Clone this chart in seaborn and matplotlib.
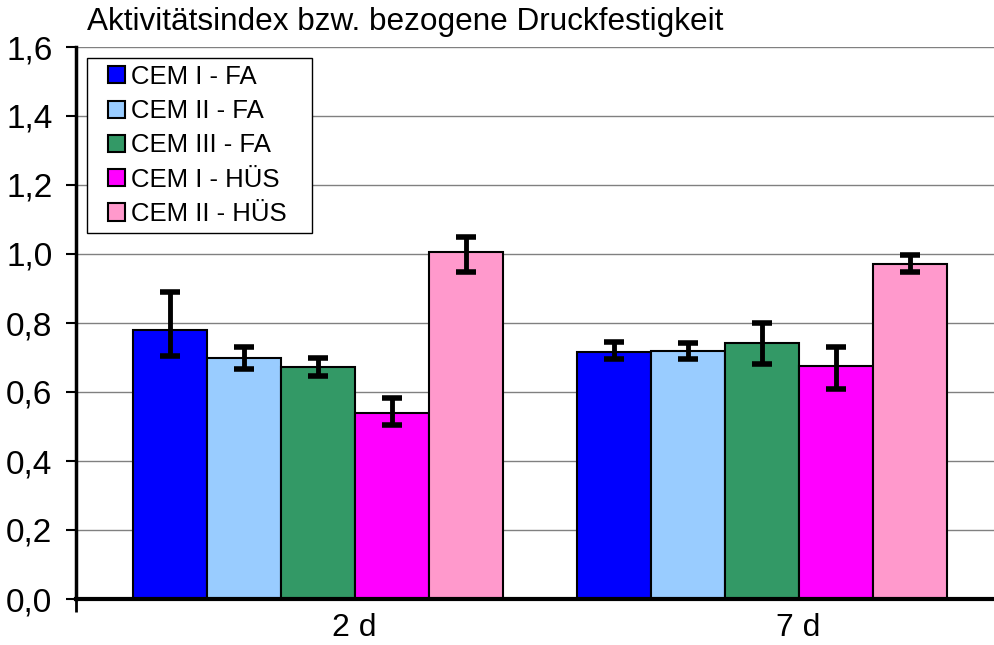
import numpy as np
import pandas as pd
import matplotlib
matplotlib.use("Agg")
import matplotlib.pyplot as plt
from matplotlib.patches import Patch, Rectangle
from matplotlib.legend_handler import HandlerPatch
from matplotlib.ticker import FuncFormatter
from matplotlib.transforms import ScaledTranslation
import seaborn as sns

# data
ages = ["2 d", "7 d"]
series = ["CEM I - FA", "CEM II - FA", "CEM III - FA", "CEM I - HÜS", "CEM II - HÜS"]
colors = ["#0000FF", "#99CCFF", "#339966", "#FF00FF", "#FF99CC"]

vals_2d = [0.780, 0.700, 0.673, 0.538, 1.007]
vals_7d = [0.717, 0.720, 0.741, 0.675, 0.971]
err_lo_2d = [0.075, 0.032, 0.028, 0.034, 0.058]
err_hi_2d = [0.110, 0.030, 0.026, 0.046, 0.043]
err_lo_7d = [0.020, 0.024, 0.060, 0.067, 0.022]
err_hi_7d = [0.029, 0.021, 0.060, 0.054, 0.025]

df = pd.DataFrame({
    "Alter": [ages[0]] * 5 + [ages[1]] * 5,
    "Zement": series * 2,
    "Wert": vals_2d + vals_7d,
    "lo": err_lo_2d + err_lo_7d,
    "hi": err_hi_2d + err_hi_7d,
})

sns.set_style("white")
plt.rcParams['font.family'] = ['Liberation Sans', 'DejaVu Sans']
plt.rcParams['text.color'] = 'black'
plt.rcParams['xtick.color'] = 'black'
plt.rcParams['ytick.color'] = 'black'

fig = plt.figure(figsize=(9.95, 6.45), dpi=100)
ax = fig.add_axes([76 / 995, 46 / 645, 1 - 76 / 995, 552 / 645])

sns.barplot(data=df, x="Alter", y="Wert", hue="Zement", hue_order=series,
            palette=colors, saturation=1, errorbar=None, width=0.833, gap=0,
            edgecolor="black", linewidth=1.5, legend=False, ax=ax, zorder=2)

# error bars at bar centres (patches sorted by x -> age-major, series order)
bars = sorted(ax.patches, key=lambda p: p.get_x())
xs = [b.get_x() + b.get_width() / 2 for b in bars]
eb = ax.errorbar(xs, df["Wert"], yerr=[df["lo"], df["hi"]], fmt="none",
                 ecolor="black", elinewidth=3.5, capsize=7, capthick=4, zorder=3)
for cap in eb[1]:
    cap.set_solid_capstyle("round")

ax.set_xlim(-0.545, 1.525)
ax.set_ylim(0, 1.6)
ax.set_yticks(np.arange(0, 1.61, 0.2))
ax.yaxis.set_major_formatter(FuncFormatter(lambda v, p: f"{v:.1f}".replace(".", ",")))
ax.yaxis.grid(True, color="#808080", linewidth=1.0, zorder=0)
ax.set_axisbelow(True)
ax.set_xlabel("")
ax.set_ylabel("")

for s in ["top", "right"]:
    ax.spines[s].set_visible(False)
ax.spines["left"].set_linewidth(2.5)
ax.spines["bottom"].set_linewidth(3)
ax.spines["left"].set_color("black")
ax.spines["bottom"].set_color("black")

ax.tick_params(axis="y", which="major", direction="out", length=7, width=1.5,
               left=True, labelsize=24, pad=10)
ax.tick_params(axis="x", which="major", length=0, labelsize=23, pad=10)
ax.set_xticks([-0.545], minor=True)
ax.tick_params(axis="x", which="minor", direction="out", length=9, width=2, bottom=True)

# category labels sit a bit right of the group centres in the original
shift = ScaledTranslation(36 / 100, 0, fig.dpi_scale_trans)
for lab in ax.get_xticklabels():
    lab.set_transform(lab.get_transform() + shift)


# small square at the right end of the handle area (Excel-like legend key)
def square_key(legend, orig_handle, xdescent, ydescent, width, height, fontsize):
    return Rectangle((-xdescent + width - height, -ydescent), height, height)


handles = [Patch(facecolor=c, edgecolor="black", linewidth=1.5) for c in colors]
leg = ax.legend(handles, series, loc="upper left", mode="expand",
                bbox_to_anchor=(11 / 919, 1 - 11 / 552 - 176 / 552, 225 / 919, 176 / 552),
                fontsize=18.5, frameon=True, fancybox=False, edgecolor="black",
                framealpha=1, handlelength=1.2, handleheight=0.65, handletextpad=0.25,
                labelspacing=0.4, borderpad=0.27, borderaxespad=0,
                handler_map={Patch: HandlerPatch(patch_func=square_key)})
leg.get_frame().set_linewidth(1.0)

fig.text(87 / 995, 1 - 22 / 645, "Aktivitätsindex bzw. bezogene Druckfestigkeit",
         fontsize=22.7, ha="left", va="center")

fig.savefig("out.png", dpi=100)
